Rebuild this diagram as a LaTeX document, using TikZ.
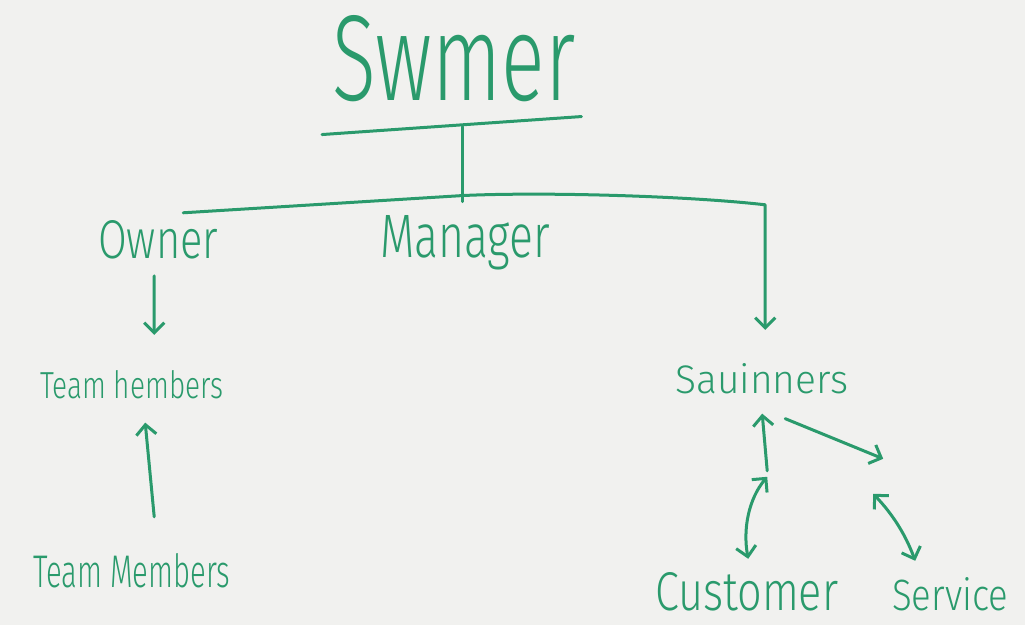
\documentclass[tikz,border=0pt]{standalone}
\usepackage{fontspec}
\setmainfont{Fira Sans}[UprightFont={* Light}]
\usepackage{graphicx}
\usetikzlibrary{arrows.meta,calc}
\definecolor{ink}{HTML}{2A9A6C}
\definecolor{board}{HTML}{F1F1EF}
\newcommand{\hw}[3]{\resizebox{#1pt}{#2pt}{#3}}
\tikzset{
  lbl/.style={anchor=base west,inner sep=0pt,text=ink},
  ln/.style={draw=ink,line width=3pt,line cap=round,line join=round},
  arr/.style={ln,-{Straight Barb[length=10pt,width=20pt,line width=3pt]}},
  darr/.style={ln,{Straight Barb[length=10pt,width=20pt,line width=3pt]}-{Straight Barb[length=10pt,width=20pt,line width=3pt]}}
}
\begin{document}
\begin{tikzpicture}[x=1pt,y=-1pt]
\fill[board] (0,0) rectangle (1025,625);
\useasboundingbox (0,0) rectangle (1025,625);
\node[lbl] (swmer) at (332,100) {\hw{243}{85}{Swmer}};
\node[lbl] (owner) at (98,258) {\hw{120}{38}{Owner}};
\node[lbl] (manager) at (380,257) {\hw{170}{42}{Manager}};
\node[lbl] (tm1) at (40,398) {\hw{183}{28}{Team hembers}};
\node[lbl] (tm2) at (33,587) {\hw{197}{34}{Team Members}};
\node[lbl] (sav) at (675,393) {\hw{173}{30}{Sauinners}};
\node[lbl] (cust) at (655,610) {\hw{183}{38}{Customer}};
\node[lbl] (serv) at (892,610) {\hw{116}{33}{Service}};
% top bar and stem
\draw[ln] ($(swmer.south west)+(-10,33)$) -- ($(swmer.south east)+(6,15)$);
\draw[ln] ($(swmer.south)+(9,25)$) -- ($(swmer.south)+(9,100)$);
% main branch
\draw[arr] ($(owner.north)+(25,-7)$) -- ($(swmer.south)+(9,94)$)
  .. controls ($(sav.north)+(-220,-171)$) and ($(sav.north)+(-75,-167)$) .. ($(sav.north)+(3.5,-158)$)
  -- ($(sav.north)+(3.5,-33)$);
% left column
\draw[arr] ($(owner.south)+(-4,17)$) -- ($(tm1.north)+(22.5,-35)$);
\draw[arr] ($(tm2.north)+(22.5,-36)$) -- ($(tm1.south)+(13.5,24)$);
% right column
\draw[arr] ($(cust.north)+(20.5,-101)$) -- ($(sav.south)+(0.5,20)$);
\draw[arr] ($(sav.south)+(23.5,25)$) -- ($(serv.north)+(-67,-118)$);
\draw[darr] ($(cust.north)+(20.5,-95)$) .. controls ($(cust.north)+(2,-73)$) and ($(cust.north)+(-4,-43)$) .. ($(cust.north)+(1.5,-13)$);
\draw[darr] ($(serv.north)+(-77,-83)$) .. controls ($(serv.north)+(-58,-63)$) and ($(serv.north)+(-45,-43)$) .. ($(serv.north)+(-35,-16)$);
\end{tikzpicture}
\end{document}
